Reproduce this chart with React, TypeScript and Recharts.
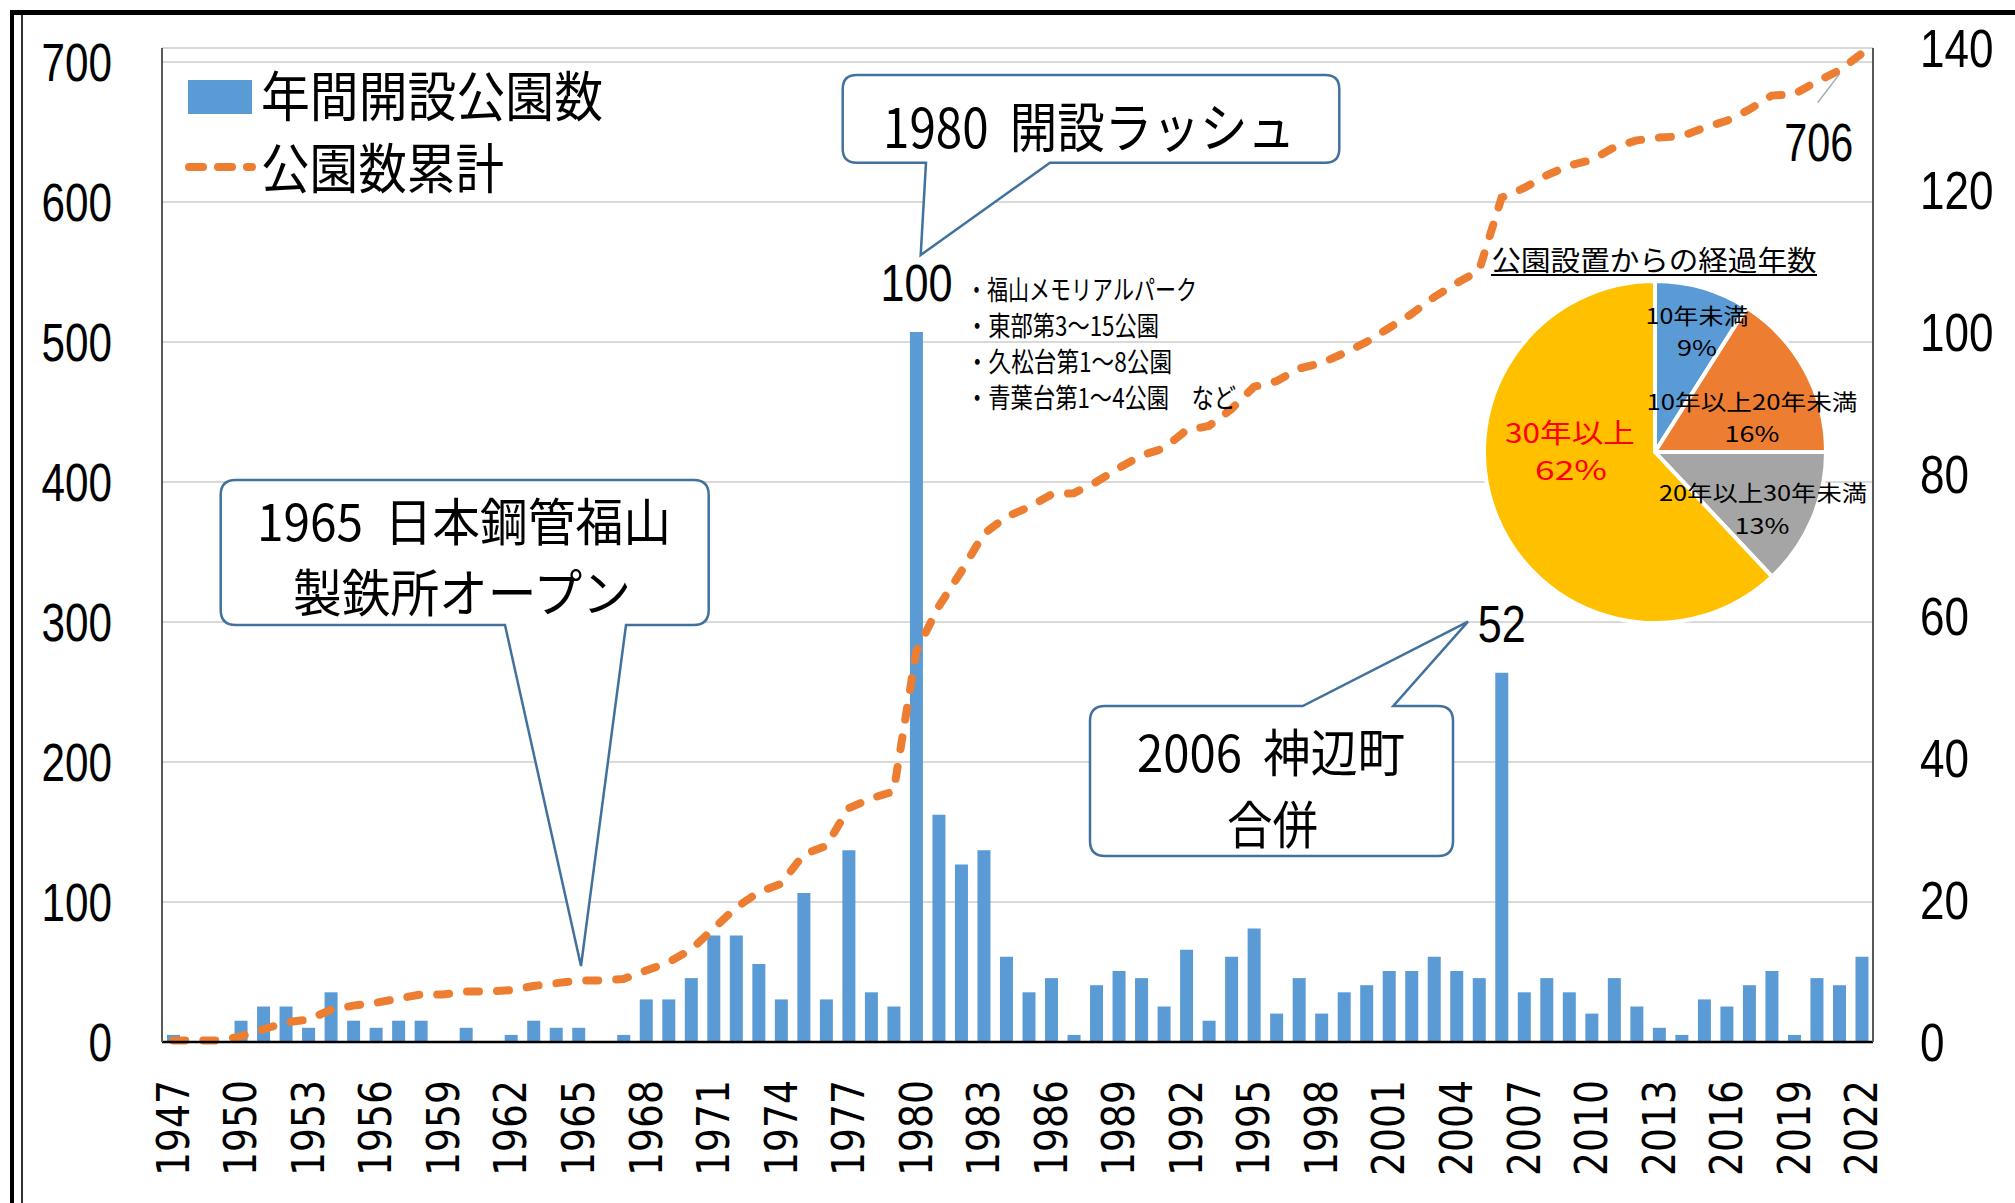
import {
  ComposedChart,
  Bar,
  Line,
  XAxis,
  YAxis,
  CartesianGrid,
  LabelList,
  PieChart,
  Pie,
  Cell,
} from 'recharts';

// years on the category axis
const YEARS = [
  '1947', '1948', '1949', '1950', '1951', '1952', '1953', '1954', '1955', '1956',
  '1957', '1958', '1959', '1960', '1961', '1962', '1963', '1964', '1965', '1966',
  '1967', '1968', '1969', '1970', '1971', '1972', '1973', '1974', '1975', '1976',
  '1977', '1978', '1979', '1980', '1981', '1982', '1983', '1984', '1985', '1986',
  '1987', '1988', '1989', '1990', '1991', '1992', '1993', '1994', '1995', '1996',
  '1997', '1998', '1999', '2000', '2001', '2002', '2003', '2004', '2005', '2006',
  '2007', '2008', '2009', '2010', '2011', '2012', '2013', '2014', '2015', '2016',
  '2017', '2018', '2019', '2020', '2021', '2022',
];

// 年間開設公園数 (right axis)
const OPENED = [
  1, 0, 0, 3, 5, 5, 2, 7, 3, 2,
  3, 3, 0, 2, 0, 1, 3, 2, 2, 0,
  1, 6, 6, 9, 15, 15, 11, 6, 21, 6,
  27, 7, 5, 100, 32, 25, 27, 12, 7, 9,
  1, 8, 10, 9, 5, 13, 3, 12, 16, 4,
  9, 4, 7, 8, 10, 10, 12, 10, 9, 52,
  7, 9, 7, 4, 9, 5, 2, 1, 6, 5,
  8, 10, 1, 9, 8, 12,
];

// 公園数累計 (left axis)
const TOTAL = [
  1, 1, 1, 4, 9, 14, 16, 23, 26, 28,
  31, 34, 34, 36, 36, 37, 40, 42, 44, 44,
  45, 51, 57, 66, 81, 96, 107, 113, 134, 140,
  167, 174, 179, 279, 311, 336, 363, 375, 382, 391,
  392, 400, 410, 419, 424, 437, 440, 452, 468, 472,
  481, 485, 492, 500, 510, 520, 532, 542, 551, 603,
  610, 619, 626, 630, 639, 644, 646, 647, 653, 658,
  666, 676, 677, 686, 694, 706,
];

const LEFT_TICKS = [0, 100, 200, 300, 400, 500, 600, 700];
const RIGHT_TICKS = [0, 20, 40, 60, 80, 100, 120, 140];

// inset pie: 公園設置からの経過年数
const AGE_GROUPS = ['10年未満', '10年以上20年未満', '20年以上30年未満', '30年以上'];
const AGE_SHARES = [9, 16, 13, 62];

const BULLETS = [
  '・福山メモリアルパーク',
  '・東部第3～15公園',
  '・久松台第1～8公園',
  '・青葉台第1～4公園　など',
];

const data = YEARS.map((year, i) => ({ year, opened: OPENED[i], total: TOTAL[i] }));
const pieData = AGE_GROUPS.map((name, i) => ({ name, value: AGE_SHARES[i] }));

const JP = "'Noto Sans CJK JP', 'Noto Sans', sans-serif";
const NUM = "'Liberation Sans Narrow', 'Liberation Sans', sans-serif";
const BLUE = '#5B9BD5';
const ORANGE = '#ED7D31';
const PIE_COLORS = ['#5B9BD5', '#ED7D31', '#A5A5A5', '#FFC000'];
const CALLOUT = '#41719C';
const GAP = '\u00A0\u00A0';

// label offsets from the pie centre: [x1, y1, x2, y2] and widths
const PIE_LABEL_POS = [
  [42, -138, 42, -106],
  [97, -52, 97, -20],
  [108, 39, 107, 72],
  [-85, -21, -84, 16],
];
const PIE_LABEL_W = [
  [103, 40],
  [211, 55],
  [208, 55],
  [130, 72],
];

const FitText = ({ x, y, text, size, width, anchor = 'middle', fill = '#000', family = JP }: any) => (
  <text
    x={x}
    y={y}
    fontSize={size}
    fontFamily={family}
    fill={fill}
    textAnchor={anchor}
    dominantBaseline="central"
    textLength={width}
    lengthAdjust="spacingAndGlyphs"
  >
    {text}
  </text>
);

// rounded box with a pointer, tail on top or bottom edge
const calloutPath = (
  x: number, y: number, w: number, h: number, r: number,
  edge: 'top' | 'bottom', a: number, b: number, tx: number, ty: number,
) => {
  if (edge === 'bottom') {
    return `M${x + r},${y} H${x + w - r} Q${x + w},${y} ${x + w},${y + r} V${y + h - r} Q${x + w},${y + h} ${x + w - r},${y + h} H${b} L${tx},${ty} L${a},${y + h} H${x + r} Q${x},${y + h} ${x},${y + h - r} V${y + r} Q${x},${y} ${x + r},${y} Z`;
  }
  return `M${x + r},${y} H${a} L${tx},${ty} L${b},${y} H${x + w - r} Q${x + w},${y} ${x + w},${y + r} V${y + h - r} Q${x + w},${y + h} ${x + w - r},${y + h} H${x + r} Q${x},${y + h} ${x},${y + h - r} V${y + r} Q${x},${y} ${x + r},${y} Z`;
};

const YearTick = ({ x, payload }: any) => (
  <text
    transform={`translate(${x},1080) rotate(-90)`}
    textAnchor="end"
    dominantBaseline="central"
    fontSize={45}
    fontFamily="'DejaVu Sans', sans-serif"
    textLength={96}
    lengthAdjust="spacingAndGlyphs"
    fill="#000"
  >
    {payload.value}
  </text>
);

const LeftTick = ({ y, payload }: any) => {
  const s = String(payload.value);
  return <FitText x={112} y={y} text={s} size={53} width={s.length * 23.5} anchor="end" family={NUM} />;
};

const RightTick = ({ y, payload }: any) => {
  const s = String(payload.value);
  return <FitText x={1920} y={y} text={s} size={53} width={s.length * 24.5} anchor="start" family={NUM} />;
};

const renderBarLabel = (props: any) => {
  const { x, y, width, value } = props;
  if (Number(value) < 50) return null;
  const s = String(value);
  return <FitText x={Number(x) + Number(width) / 2} y={Number(y) - 49} text={s} size={52} width={s.length * 24} family={NUM} />;
};

const renderTotalLabel = (props: any) => {
  const { x, y, value } = props;
  if (Number(value) < 700) return null;
  return (
    <g>
      <line x1={x - 22} y1={y + 20} x2={x - 44} y2={y + 49} stroke="#A6A6A6" strokeWidth={1.5} />
      <FitText x={x - 43} y={y + 89} text={String(value)} size={53} width={69} family={NUM} />
    </g>
  );
};

const renderPieLabel = (props: any) => {
  const { cx, cy, index, name, value } = props;
  const [x1, y1, x2, y2] = PIE_LABEL_POS[index];
  const [w1, w2] = PIE_LABEL_W[index];
  const big = index === 3;
  const fill = big ? '#FF0000' : '#000';
  const size = big ? 27 : 22;
  return (
    <g>
      <FitText x={cx + x1} y={cy + y1} text={name} size={size} width={w1} fill={fill} />
      <FitText x={cx + x2} y={cy + y2} text={`${value}%`} size={size} width={w2} fill={fill} />
    </g>
  );
};

export default function App() {
  return (
    <div
      style={{
        position: 'fixed',
        left: 0,
        top: 0,
        width: 2015,
        height: 1203,
        background: '#fff',
        overflow: 'hidden',
      }}
    >
      {/* outer frame */}
      <div
        style={{
          position: 'absolute',
          left: 10,
          top: 10,
          width: 2200,
          height: 1400,
          borderLeft: '4px solid #000',
          borderTop: '5px solid #000',
        }}
      />
      <div style={{ position: 'absolute', left: 21, top: 15, width: 1.5, height: 1300, background: '#333' }} />

      <div style={{ position: 'absolute', left: 0, top: 0 }}>
        <ComposedChart
          width={2015}
          height={1203}
          data={data}
          margin={{ top: 48, right: 0, left: 0, bottom: 0 }}
          barCategoryGap={0}
        >
          <CartesianGrid yAxisId="left" vertical={false} stroke="#D9D9D9" strokeWidth={2} />
          <XAxis
            dataKey="year"
            interval={2}
            height={161}
            tickLine={false}
            axisLine={{ stroke: '#000', strokeWidth: 2.5 }}
            tick={(p: any) => <YearTick {...p} />}
          />
          <YAxis
            yAxisId="left"
            width={162}
            domain={[0, 710]}
            ticks={LEFT_TICKS}
            tickLine={false}
            axisLine={{ stroke: '#595959', strokeWidth: 2 }}
            tick={(p: any) => <LeftTick {...p} />}
          />
          <YAxis
            yAxisId="right"
            orientation="right"
            width={142}
            domain={[0, 140]}
            ticks={RIGHT_TICKS}
            tickLine={false}
            axisLine={{ stroke: '#595959', strokeWidth: 2 }}
            tick={(p: any) => <RightTick {...p} />}
          />
          <Bar yAxisId="right" dataKey="opened" fill={BLUE} barSize={13} isAnimationActive={false}>
            <LabelList dataKey="opened" content={renderBarLabel} />
          </Bar>
          <Line
            yAxisId="left"
            type="linear"
            dataKey="total"
            stroke={ORANGE}
            strokeWidth={8}
            strokeDasharray="12 18"
            strokeLinecap="round"
            dot={false}
            activeDot={false}
            isAnimationActive={false}
          >
            <LabelList dataKey="total" content={renderTotalLabel} />
          </Line>
        </ComposedChart>
      </div>

      {/* inset pie */}
      <div style={{ position: 'absolute', left: 1430, top: 240 }}>
        <PieChart width={480} height={420} margin={{ top: 0, right: 0, bottom: 0, left: 0 }} style={{ overflow: 'visible' }}>
          <Pie
            data={pieData}
            dataKey="value"
            nameKey="name"
            cx={225}
            cy={212}
            outerRadius={171}
            startAngle={90}
            endAngle={-270}
            stroke="#fff"
            strokeWidth={4}
            label={renderPieLabel}
            labelLine={false}
            isAnimationActive={false}
          >
            {pieData.map((d, i) => (
              <Cell key={d.name} fill={PIE_COLORS[i]} />
            ))}
          </Pie>
        </PieChart>
      </div>

      {/* legend, callouts, notes */}
      <svg
        width={2015}
        height={1203}
        style={{ position: 'absolute', left: 0, top: 0, pointerEvents: 'none' }}
      >
        <rect x={188} y={80} width={64} height={34} fill={BLUE} />
        <FitText x={261} y={93} text="年間開設公園数" size={54} width={342} anchor="start" />
        <line
          x1={189}
          y1={167}
          x2={252}
          y2={167}
          stroke={ORANGE}
          strokeWidth={8}
          strokeDasharray="14 15"
          strokeLinecap="round"
        />
        <FitText x={261} y={165} text="公園数累計" size={54} width={243} anchor="start" />

        <path
          d={calloutPath(842.7, 75, 496.6, 87.7, 14, 'bottom', 926, 1050, 920.7, 255)}
          fill="#fff"
          stroke={CALLOUT}
          strokeWidth={2.5}
        />
        <FitText x={1089} y={124} text={`1980${GAP}開設ラッシュ`} size={54} width={412} />

        <path
          d={calloutPath(220.7, 480, 488, 145, 15, 'bottom', 505, 626, 581, 966)}
          fill="#fff"
          stroke={CALLOUT}
          strokeWidth={2.5}
        />
        <FitText x={464} y={519} text={`1965${GAP}日本鋼管福山`} size={51} width={414} />
        <FitText x={462} y={590} text="製鉄所オープン" size={51} width={338} />

        <path
          d={calloutPath(1090, 706, 363, 150, 15, 'top', 1302.7, 1393.3, 1468, 621.7)}
          fill="#fff"
          stroke={CALLOUT}
          strokeWidth={2.5}
        />
        <FitText x={1271} y={750} text={`2006${GAP}神辺町`} size={51} width={268} />
        <FitText x={1272.5} y={822} text="合併" size={51} width={91} />

        {BULLETS.map((b, i) => (
          <FitText
            key={b}
            x={966}
            y={288 + i * 36}
            text={b}
            size={27}
            width={[231, 193, 206, 270][i]}
            anchor="start"
          />
        ))}

        <FitText x={1654} y={259} text="公園設置からの経過年数" size={28} width={325} />
        <line x1={1491} y1={275} x2={1817} y2={275} stroke="#000" strokeWidth={2} />
      </svg>
    </div>
  );
}
